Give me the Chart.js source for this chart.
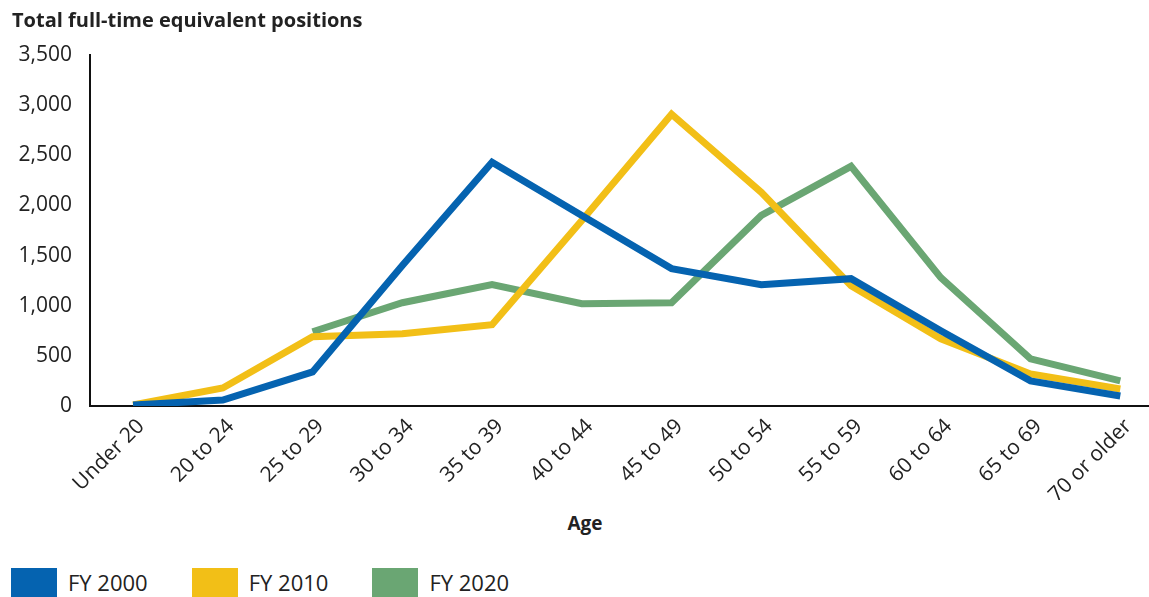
<!DOCTYPE html>
<html>
<head>
<meta charset="utf-8">
<script src="https://cdn.jsdelivr.net/npm/chart.js@4/dist/chart.umd.min.js"></script>
<style>
  html, body { margin: 0; padding: 0; background: #fff; overflow: hidden; }
  body { width: 1149px; height: 597px; position: relative; font-family: "Open Sans", sans-serif; color: #222; }
  #wrap { position: absolute; left: 0; top: 0; width: 1149px; height: 500px; }
  #age { position: absolute; left: 585px; top: 510px; transform: translateX(-50%); font-weight: bold; font-size: 19px; }
  #legend { position: absolute; left: 11px; top: 568px; display: flex; }
  .item { display: flex; align-items: flex-start; margin-right: 44px; }
  .box { width: 46px; height: 32px; }
  .lbl { margin-left: 11px; font-size: 22px; line-height: 28px; }
</style>
</head>
<body>
<div id="wrap"><canvas id="chart" width="1149" height="500"></canvas></div>
<div id="age">Age</div>
<div id="legend"></div>
<script>
const ageGroups = ["Under 20", "20 to 24", "25 to 29", "30 to 34", "35 to 39", "40 to 44",
  "45 to 49", "50 to 54", "55 to 59", "60 to 64", "65 to 69", "70 or older"];
const fy2000 = [10, 60, 340, 1400, 2430, 1900, 1370, 1210, 1270, 750, 250, 100];
const fy2010 = [10, 180, 690, 720, 810, 1850, 2910, 2130, 1200, 670, 320, 170];
const fy2020 = [null, null, 740, 1030, 1210, 1020, 1030, 1900, 2390, 1280, 470, 250];
const yTicks = [0, 500, 1000, 1500, 2000, 2500, 3000, 3500];

const seriesNames = ["FY 2000", "FY 2010", "FY 2020"];
const seriesColors = ["#0563B0", "#F2BF17", "#6AA673"];

function toPoints(values) {
  return values.map((v, i) => ({ x: i, y: v }));
}

const ctx = document.getElementById("chart").getContext("2d");
const chart = new Chart(ctx, {
  type: "line",
  data: {
    datasets: [fy2000, fy2010, fy2020].map((vals, i) => ({
      label: seriesNames[i],
      data: toPoints(vals),
      borderColor: seriesColors[i],
      backgroundColor: seriesColors[i],
      borderWidth: 7,
      pointRadius: 0,
      tension: 0,
    })),
  },
  options: {
    responsive: false,
    animation: false,
    layout: { padding: { left: 12, right: 0, top: 0, bottom: 0 } },
    plugins: {
      legend: { display: false },
      tooltip: { enabled: false },
      title: {
        display: true,
        text: "Total full-time equivalent positions",
        align: "start",
        color: "#222",
        font: { family: "Open Sans", size: 20, weight: "bold", lineHeight: 1.2 },
        padding: { top: 9, bottom: 22 },
      },
    },
    scales: {
      x: {
        type: "linear",
        min: -0.48,
        max: 11.32,
        grid: { display: false, drawTicks: false },
        border: { display: true, color: "#111", width: 2 },
        afterBuildTicks: (scale) => {
          scale.ticks = ageGroups.map((_, i) => ({ value: i }));
        },
        afterFit: (scale) => { scale.height = 94; },
        ticks: {
          autoSkip: false,
          maxRotation: 45,
          minRotation: 45,
          padding: 8,
          labelOffset: 8,
          color: "#222",
          font: { family: "Open Sans", size: 21 },
          callback: (value) => ageGroups[value],
        },
      },
      y: {
        min: 0,
        max: 3500,
        grid: { display: false, drawTicks: false },
        border: { display: true, color: "#111", width: 2 },
        afterBuildTicks: (scale) => {
          scale.ticks = yTicks.map((v) => ({ value: v }));
        },
        afterFit: (scale) => { scale.width = 78; },
        ticks: {
          padding: 18,
          color: "#222",
          font: { family: "Open Sans", size: 21 },
          callback: (value) => value.toLocaleString("en-US"),
        },
      },
    },
  },
});

const legend = document.getElementById("legend");
chart.data.datasets.forEach((ds) => {
  const item = document.createElement("div");
  item.className = "item";
  item.innerHTML = `<div class="box" style="background:${ds.borderColor}"></div><div class="lbl">${ds.label}</div>`;
  legend.appendChild(item);
});
</script>
</body>
</html>
